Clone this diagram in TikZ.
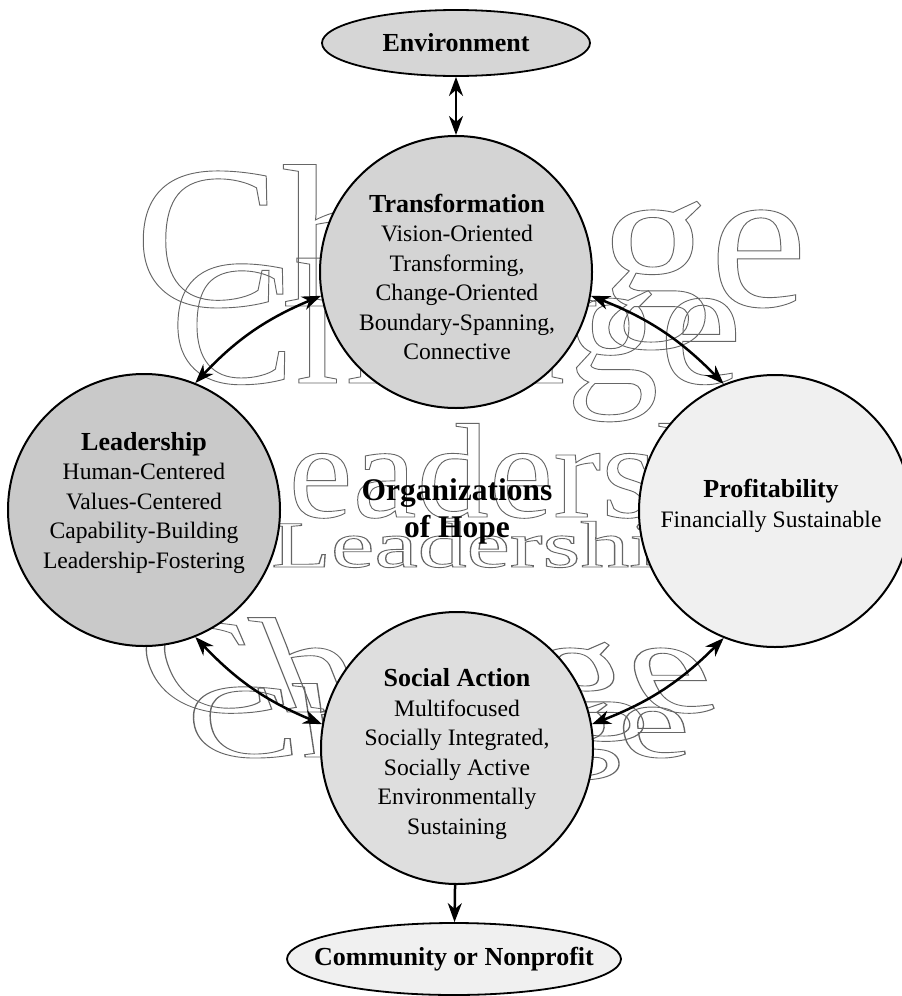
\documentclass[tikz,border=0pt]{standalone}
\usepackage{fontspec}
\setmainfont{Liberation Serif}
\usetikzlibrary{shapes.geometric,arrows.meta}
\newcommand\outl[1]{\special{pdf:literal direct 1 Tr 0.9 w}#1\special{pdf:literal direct 0 Tr}}
\newcommand\hd{\fontsize{26}{29.5}\selectfont\bfseries}
\begin{document}
\begin{tikzpicture}[x=1pt,y=1pt,
  >={Stealth[length=19pt,width=14pt,inset=6pt]},
  circ/.style={circle, draw=black, line width=2pt, minimum size=272pt, inner sep=0pt},
  oval/.style={ellipse, draw=black, line width=1.8pt, inner sep=0pt},
  txt/.style={align=center, inner sep=0pt, font=\fontsize{23.6}{29.5}\selectfont},
  big/.style={inner sep=0pt, anchor=base west, text=black!60, transform shape},
  link/.style={line width=2.5pt, <->},
  feed/.style={line width=2.5pt, ->}]
\useasboundingbox (0,0) rectangle (902,-996);
\clip (0,0) rectangle (902,-996);

% decorative outlined words
\begin{scope}[shift={(134,-306)}, xscale=1.08]
  \node[big] (chA) at (0,0) {\fontsize{204}{204}\selectfont\outl{Change}};
\end{scope}
\begin{scope}[shift={(170,-383)}, xscale=1.04]
  \node[big] (chB) at (0,0) {\fontsize{180}{180}\selectfont\outl{Change}};
\end{scope}
\begin{scope}[shift={(200,-517)}, xscale=1.07]
  \node[big] (ldA) at (0,0) {\fontsize{135}{135}\selectfont\outl{Leadership}};
\end{scope}
\begin{scope}[shift={(271,-567)}, xscale=1.48]
  \node[big] (ldB) at (0,0) {\fontsize{66}{66}\selectfont\outl{Leadership}};
\end{scope}
\begin{scope}[shift={(160,-712)}, xslant=-0.4, xscale=1.36]
  \node[big] (chC) at (0,0) {\fontsize{136}{136}\selectfont\outl{Change}};
\end{scope}
\begin{scope}[shift={(192,-757)}, xslant=-0.15, xscale=1.55]
  \node[big] (chD) at (0,0) {\fontsize{106}{106}\selectfont\outl{Change}};
\end{scope}

% circles
\node[circ, fill=black!17] (trans) at (456,-272) {};
\node[circ, fill=black!21] (lead) at (144,-510) {};
\node[circ, fill=black!6] (prof) at (775,-511) {};
\node[circ, fill=black!13] (soc) at (457,-748) {};

% ellipses
\node[oval, fill=black!16, minimum width=268pt, minimum height=66pt] (env) at (456,-43)
  {\makebox[0pt]{\hd Environment}};
\node[oval, fill=black!6, minimum width=334pt, minimum height=72pt] (com) at (454,-959)
  {\makebox[0pt]{\hd Community or Nonprofit}};

% connectors
\draw[link] (env) -- (trans);
\draw[link] (lead.68) to[bend left=12] (trans.190);
\draw[link] (trans.-10) to[bend left=12] (prof.112);
\draw[link] (lead.-68) to[bend right=12] (soc.170);
\draw[link] (soc.10) to[bend right=12] (prof.248);
\draw[feed] (soc) -- (com);

% texts
\node[txt] (transT) at (457,-277) {{\hd Transformation}\\Vision-Oriented\\Transforming,\\Change-Oriented\\Boundary-Spanning,\\Connective};
\node[txt] (leadT) at (144,-503) {{\hd Leadership}\\Human-Centered\\Values-Centered\\Capability-Building\\Leadership-Fostering};
\node[txt] (profT) at (771,-506) {{\hd Profitability}\\Financially Sustainable};
\node[txt] (socT) at (457,-754) {{\hd Social Action}\\Multifocused\\Socially Integrated,\\Socially Active\\Environmentally\\Sustaining};
\node[align=center, inner sep=0pt, font=\fontsize{31.5}{37}\selectfont\bfseries] (hope) at (457,-511) {Organizations\\of Hope};
\end{tikzpicture}
\end{document}
